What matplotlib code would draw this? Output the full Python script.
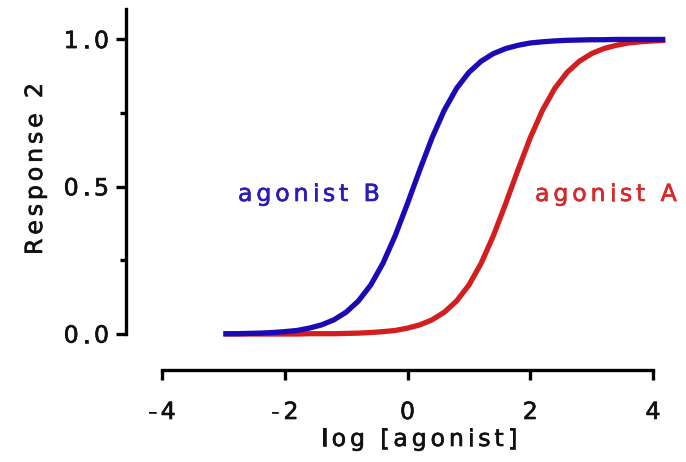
import numpy as np
import matplotlib
matplotlib.use('Agg')
import matplotlib.pyplot as plt
from matplotlib import transforms
from matplotlib import patheffects
from matplotlib.font_manager import FontProperties, findfont, get_font

W, H = 686, 462
FONT = 'DejaVu Sans'
SIZE = 17      # points
TRACK = 2.8    # extra letter spacing, points

# log concentration grid and the two concentration-response curves
log_conc = [-3.0, -2.8, -2.6, -2.4, -2.2, -2.0, -1.8, -1.6, -1.4, -1.2,
            -1.0, -0.8, -0.6, -0.4, -0.2, 0.0, 0.2, 0.4, 0.6, 0.8,
            1.0, 1.2, 1.4, 1.6, 1.8, 2.0, 2.2, 2.4, 2.6, 2.8,
            3.0, 3.2, 3.4, 3.6, 3.8, 4.0, 4.2]
resp_b = [0.001, 0.001, 0.002, 0.003, 0.005, 0.008, 0.012, 0.020, 0.031, 0.048,
          0.074, 0.112, 0.166, 0.240, 0.334, 0.443, 0.557, 0.666, 0.760, 0.834,
          0.888, 0.926, 0.952, 0.969, 0.980, 0.988, 0.992, 0.995, 0.997, 0.998,
          0.999, 0.999, 1.000, 1.000, 1.000, 1.000, 1.000]
resp_a = [0.000, 0.000, 0.000, 0.000, 0.000, 0.000, 0.000, 0.001, 0.001, 0.001,
          0.002, 0.003, 0.005, 0.008, 0.012, 0.020, 0.031, 0.048, 0.074, 0.112,
          0.166, 0.240, 0.334, 0.443, 0.557, 0.666, 0.760, 0.834, 0.888, 0.926,
          0.952, 0.969, 0.980, 0.988, 0.992, 0.995, 0.997]

x_ticks = [-4, -2, 0, 2, 4]
x_tick_labels = ['-4', '-2', '0', '2', '4']
y_ticks = [0.0, 0.5, 1.0]
y_tick_labels = ['0.0', '0.5', '1.0']
y_minor = [0.25, 0.75]

BLUE = '#1a0bb4'
RED = '#d21e1e'
BLUE_TXT = '#2a1cb8'
RED_TXT = '#d62a2a'
INK = '#111111'


def spaced(fig, x, y, s, transform, color=INK, ha='center',
           rotation=0, dy=0.0, track=TRACK, size=SIZE):
    """Draw s one character at a time with extra letter spacing."""
    fp = FontProperties(family=FONT, size=size)
    ft = get_font(findfont(fp))
    ft.set_size(size, 72)
    adv = [ft.load_char(ord(c)).linearHoriAdvance / 65536 for c in s]
    total = sum(adv) + track * (len(s) - 1)
    pen = {'left': 0.0, 'center': -total / 2, 'right': -total}[ha]
    ca, sa = np.cos(np.radians(rotation)), np.sin(np.radians(rotation))
    fx = [patheffects.withStroke(linewidth=0.45, foreground=color)]
    for c, a in zip(s, adv):
        if c != ' ':
            off = transforms.ScaledTranslation((pen * ca - dy * sa) / 72,
                                               (pen * sa + dy * ca) / 72,
                                               fig.dpi_scale_trans)
            fig.text(x, y, c, transform=transform + off, fontproperties=fp,
                     color=color, ha='left', va='baseline', path_effects=fx,
                     rotation=rotation, rotation_mode='anchor')
        pen += a + track


fig = plt.figure(figsize=(W / 100, H / 100), dpi=100)
ax = fig.add_axes([162 / W, 1 - 334 / H, 491 / W, 325.5 / H])
ax.set_xlim(-4, 4)
ax.set_ylim(0, 1.105)

ax.plot(log_conc, resp_a, color=RED, lw=3.8, clip_on=False,
        solid_capstyle='butt', solid_joinstyle='round', zorder=3)
ax.plot(log_conc, resp_b, color=BLUE, lw=3.8, clip_on=False,
        solid_capstyle='butt', solid_joinstyle='round', zorder=4)

# detached axes
for side in ['top', 'right']:
    ax.spines[side].set_visible(False)
ax.spines['left'].set_position(('outward', 36 * 0.72))
ax.spines['bottom'].set_position(('outward', 36 * 0.72))
for side in ['left', 'bottom']:
    ax.spines[side].set_linewidth(2.4)

ax.set_xticks(x_ticks)
ax.set_xticklabels([])
ax.set_yticks(y_ticks)
ax.set_yticks(y_minor, minor=True)
ax.set_yticklabels([])
ax.tick_params(axis='both', which='major', length=7.5, width=2.4, direction='out')
ax.tick_params(axis='y', which='minor', length=4.5, width=2.4, direction='out')
ax.tick_params(axis='x', which='minor', bottom=False)

# figure pixel coordinates (top-left origin)
fig_px = transforms.Affine2D().scale(1 / W, -1 / H).translate(0, 1) + fig.transFigure

y_lab_tr = transforms.blended_transform_factory(fig_px, ax.transData)
for v, lab in zip(y_ticks, y_tick_labels):
    spaced(fig, 109, v, lab, y_lab_tr, ha='right', dy=-6.2)

x_lab_tr = transforms.blended_transform_factory(ax.transData, fig_px)
for v, lab in zip(x_ticks, x_tick_labels):
    spaced(fig, v, 419, lab, x_lab_tr, ha='center')

# axis titles
spaced(fig, 419, 446, 'log [agonist]', fig_px, ha='center')
spaced(fig, 42, 169, 'Response 2', fig_px, ha='center', rotation=90)

# curve labels
spaced(fig, 238, 201, 'agonist B', fig_px, color=BLUE_TXT, ha='left')
spaced(fig, 535, 201, 'agonist A', fig_px, color=RED_TXT, ha='left')

fig.savefig('out.png', dpi=100)
